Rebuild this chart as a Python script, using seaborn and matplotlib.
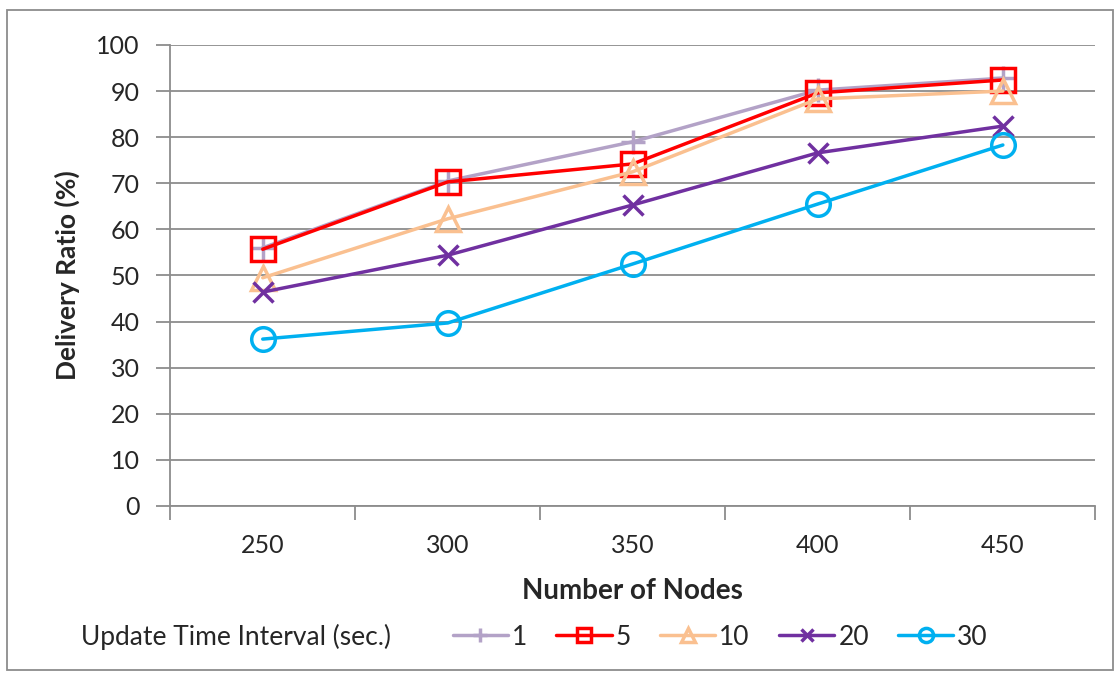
import numpy as np
import pandas as pd
import matplotlib
matplotlib.use("Agg")
import matplotlib.pyplot as plt
from matplotlib.patches import Rectangle
import seaborn as sns

# values
nodes = [250, 300, 350, 400, 450]
intervals = ['1', '5', '10', '20', '30']
ratio_1 = [56.0, 70.5, 79.0, 90.2, 92.8]
ratio_5 = [55.7, 70.3, 74.2, 89.6, 92.4]
ratio_10 = [49.5, 62.3, 72.5, 88.3, 90.0]
ratio_20 = [46.4, 54.4, 65.3, 76.6, 82.4]
ratio_30 = [36.2, 39.7, 52.5, 65.5, 78.3]

series = [ratio_1, ratio_5, ratio_10, ratio_20, ratio_30]
colors = ['#B3A2C7', '#FF0000', '#FAC090', '#7030A0', '#00B0F0']
markers = ['+', 's', '^', 'x', 'o']
msizes = [17, 17, 17, 15, 17]

sns.set_style("white")
plt.rcParams['font.family'] = ['Lato', 'DejaVu Sans']

fig = plt.figure(figsize=(11.2, 6.77), dpi=100)
ax = fig.add_axes([0.152, 0.2526, 0.826, 0.681])

for lab, vals, c, m, ms in zip(intervals, series, colors, markers, msizes):
    sns.lineplot(x=nodes, y=vals, ax=ax, color=c, marker=m, markersize=ms,
                 markerfacecolor='none', markeredgecolor=c, markeredgewidth=2.5,
                 linewidth=2.5, label=lab)

grey = '#8C8C8C'
ax.set_ylim(0, 100)
ax.set_yticks(np.arange(0, 101, 10))
ax.set_xlim(225, 475)
ax.set_xticks(nodes)
ax.set_xticks(np.arange(225, 476, 50), minor=True)
ax.yaxis.grid(True, color=grey, linewidth=1.3)
ax.set_axisbelow(True)
for s in ['top', 'right']:
    ax.spines[s].set_visible(False)
for s in ['left', 'bottom']:
    ax.spines[s].set_color(grey)
    ax.spines[s].set_linewidth(1.3)
ax.tick_params(axis='y', which='major', length=10, width=1.3, color=grey,
               direction='out', left=True, labelsize=18, pad=12)
ax.tick_params(axis='x', which='major', length=0, labelsize=18, pad=20)
ax.tick_params(axis='x', which='minor', length=10, width=1.3, color=grey,
               direction='out', bottom=True)

ax.set_xlabel('Number of Nodes', fontsize=20, fontweight='bold', labelpad=15)
ax.set_ylabel('Delivery Ratio (%)', fontsize=19, fontweight='bold', labelpad=12)

ax.legend(loc='center left', bbox_to_anchor=(0.383, 0.059), bbox_transform=fig.transFigure,
          ncol=5, frameon=False, fontsize=19, handlelength=2.1, handletextpad=0.15,
          columnspacing=1.1, markerscale=0.6)
fig.text(0.072, 0.059, 'Update Time Interval (sec.)', fontsize=19, va='center', ha='left')

fig.patches.append(Rectangle((0.006, 0.01), 0.988, 0.975, transform=fig.transFigure,
                             fill=False, edgecolor=grey, linewidth=1.3))

fig.savefig('out.png', dpi=100)
